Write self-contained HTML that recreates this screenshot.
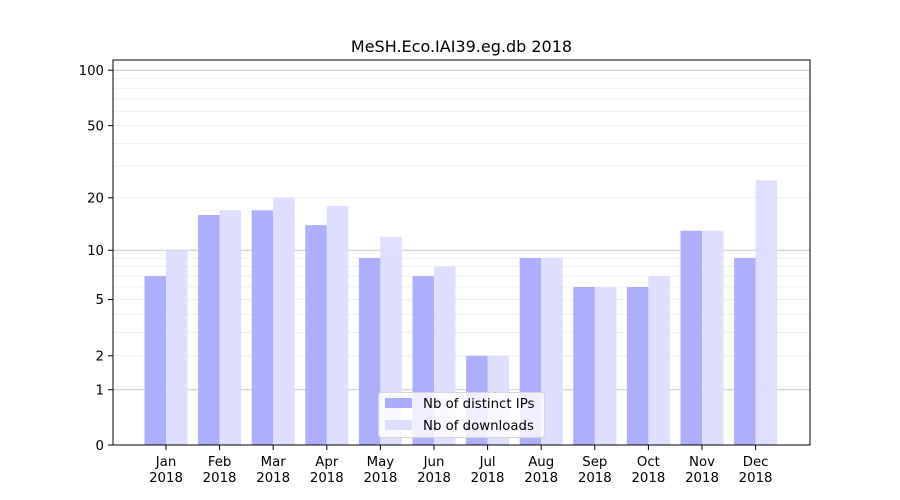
<!DOCTYPE html>
<html><head><meta charset="utf-8"><style>
html,body{margin:0;padding:0;background:#fff;}
svg{display:block;font-family:"DejaVu Sans","Liberation Sans",sans-serif;}
</style></head><body>
<svg width="900" height="500" viewBox="0 0 900 500" xmlns="http://www.w3.org/2000/svg">
<rect width="900" height="500" fill="#fff"/>
<text x="461.5" y="52" font-size="16" text-anchor="middle" fill="#000">MeSH.Eco.IAI39.eg.db 2018</text>
<g stroke="#ebebeb" stroke-width="0.8">
<line x1="113" x2="810" y1="355.8" y2="355.8"/><line x1="113" x2="810" y1="332.4" y2="332.4"/>
<line x1="113" x2="810" y1="314.3" y2="314.3"/><line x1="113" x2="810" y1="299.5" y2="299.5"/>
<line x1="113" x2="810" y1="287" y2="287"/><line x1="113" x2="810" y1="276.1" y2="276.1"/>
<line x1="113" x2="810" y1="266.6" y2="266.6"/><line x1="113" x2="810" y1="258" y2="258"/>
<line x1="113" x2="810" y1="197.8" y2="197.8"/><line x1="113" x2="810" y1="166.1" y2="166.1"/>
<line x1="113" x2="810" y1="143.4" y2="143.4"/><line x1="113" x2="810" y1="125.6" y2="125.6"/>
<line x1="113" x2="810" y1="111.2" y2="111.2"/><line x1="113" x2="810" y1="98.8" y2="98.8"/>
<line x1="113" x2="810" y1="88.2" y2="88.2"/><line x1="113" x2="810" y1="78.7" y2="78.7"/>
</g>
<g stroke="#c8c8c8" stroke-width="1">
<line x1="113" x2="810" y1="389.7" y2="389.7"/><line x1="113" x2="810" y1="250.3" y2="250.3"/><line x1="113" x2="810" y1="70.2" y2="70.2"/>
</g>
<g fill="#aaaaff" opacity="0.95">
<rect x="144.5" width="21.5" y="276.1" height="168.9"/>
<rect x="198.1" width="21.5" y="215" height="230"/>
<rect x="251.7" width="21.5" y="210.3" height="234.7"/>
<rect x="305.3" width="21.5" y="225.1" height="219.9"/>
<rect x="358.9" width="21.5" y="258" height="187"/>
<rect x="412.5" width="21.5" y="276.1" height="168.9"/>
<rect x="466.1" width="21.5" y="355.8" height="89.2"/>
<rect x="519.7" width="21.5" y="258" height="187"/>
<rect x="573.3" width="21.5" y="287" height="158"/>
<rect x="626.9" width="21.5" y="287" height="158"/>
<rect x="680.5" width="21.5" y="230.7" height="214.3"/>
<rect x="734.1" width="21.5" y="258" height="187"/>
</g>
<g fill="#ddddff" opacity="0.95">
<rect x="166" width="21.5" y="250.3" height="194.7"/>
<rect x="219.6" width="21.5" y="210.3" height="234.7"/>
<rect x="273.2" width="21.5" y="197.8" height="247.2"/>
<rect x="326.8" width="21.5" y="205.8" height="239.2"/>
<rect x="380.4" width="21.5" y="236.7" height="208.3"/>
<rect x="434" width="21.5" y="266.6" height="178.4"/>
<rect x="487.6" width="21.5" y="355.8" height="89.2"/>
<rect x="541.2" width="21.5" y="258" height="187"/>
<rect x="594.8" width="21.5" y="287" height="158"/>
<rect x="648.4" width="21.5" y="276.1" height="168.9"/>
<rect x="702" width="21.5" y="230.7" height="214.3"/>
<rect x="755.6" width="21.5" y="180.4" height="264.6"/>
</g>
<rect x="113" y="60" width="697" height="385" fill="none" stroke="#000" stroke-width="1"/>
<g stroke="#000" stroke-width="1">
<line x1="108" x2="113" y1="445" y2="445"/><line x1="108" x2="113" y1="389.7" y2="389.7"/>
<line x1="108" x2="113" y1="355.8" y2="355.8"/><line x1="108" x2="113" y1="299.5" y2="299.5"/>
<line x1="108" x2="113" y1="250.3" y2="250.3"/><line x1="108" x2="113" y1="197.8" y2="197.8"/>
<line x1="108" x2="113" y1="125.6" y2="125.6"/><line x1="108" x2="113" y1="70.2" y2="70.2"/>
</g>
<g font-size="13.3" text-anchor="end" fill="#000">
<text x="104" y="450">0</text><text x="104" y="394.5">1</text><text x="104" y="360.5">2</text>
<text x="104" y="304">5</text><text x="104" y="255">10</text><text x="104" y="202.5">20</text>
<text x="104" y="130.5">50</text><text x="104" y="75">100</text>
</g>
<g stroke="#000"><line x1="166" x2="166" y1="445" y2="450"/><line x1="219.6" x2="219.6" y1="445" y2="450"/><line x1="273.2" x2="273.2" y1="445" y2="450"/><line x1="326.8" x2="326.8" y1="445" y2="450"/><line x1="380.4" x2="380.4" y1="445" y2="450"/><line x1="434" x2="434" y1="445" y2="450"/><line x1="487.6" x2="487.6" y1="445" y2="450"/><line x1="541.2" x2="541.2" y1="445" y2="450"/><line x1="594.8" x2="594.8" y1="445" y2="450"/><line x1="648.4" x2="648.4" y1="445" y2="450"/><line x1="702" x2="702" y1="445" y2="450"/><line x1="755.6" x2="755.6" y1="445" y2="450"/></g>
<g font-size="13.3" text-anchor="middle" fill="#000">
<text x="166" y="466">Jan</text><text x="166" y="482">2018</text>
<text x="219.6" y="466">Feb</text><text x="219.6" y="482">2018</text>
<text x="273.2" y="466">Mar</text><text x="273.2" y="482">2018</text>
<text x="326.8" y="466">Apr</text><text x="326.8" y="482">2018</text>
<text x="380.4" y="466">May</text><text x="380.4" y="482">2018</text>
<text x="434" y="466">Jun</text><text x="434" y="482">2018</text>
<text x="487.6" y="466">Jul</text><text x="487.6" y="482">2018</text>
<text x="541.2" y="466">Aug</text><text x="541.2" y="482">2018</text>
<text x="594.8" y="466">Sep</text><text x="594.8" y="482">2018</text>
<text x="648.4" y="466">Oct</text><text x="648.4" y="482">2018</text>
<text x="702" y="466">Nov</text><text x="702" y="482">2018</text>
<text x="755.6" y="466">Dec</text><text x="755.6" y="482">2018</text>
</g>
<rect x="378.5" y="392.5" width="166" height="45" rx="3" fill="#fff" fill-opacity="0.8" stroke="#d6d6d6"/>
<rect x="385" y="398" width="27" height="10" fill="#aaaaff"/>
<rect x="385" y="420" width="27" height="10" fill="#ddddff"/>
<g font-size="13.3" fill="#000"><text x="423" y="408">Nb of distinct IPs</text><text x="423" y="430">Nb of downloads</text></g>
</svg>
</body></html>
